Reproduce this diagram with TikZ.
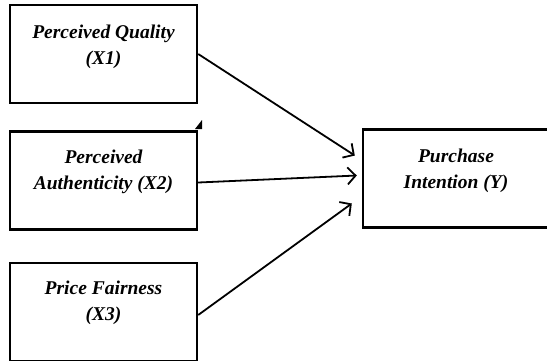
\documentclass[tikz,border=0pt]{standalone}
\usepackage{fontspec}
\setmainfont{Liberation Serif}
\usetikzlibrary{arrows.meta, positioning, calc}

\tikzset{
  factor/.style={draw, line width=2.4pt, minimum width=187pt, minimum height=98pt, inner sep=0pt},
  factortext/.style={align=center, font=\fontsize{19.5}{26}\selectfont\bfseries\itshape},
  path/.style={line width=1.8pt, -{Straight Barb[length=8pt,width=17pt,line width=1.8pt]}}
}

\begin{document}
\begin{tikzpicture}[x=1pt, y=-1pt]
\useasboundingbox (0,0) rectangle (547,360);

% Independent variables
\node[factor] (x1) at (103.5,54) {};
\node[factortext] (x1txt) at ([yshift=7pt]x1.center) {Perceived Quality\\(X1)};

\node[factor] (x2) at (103.5,180.5) {};
\node[factortext] (x2txt) at ([yshift=9pt]x2.center) {Perceived\\Authenticity (X2)};
\fill (195,129) -- (202,129) -- (202,120) -- cycle;

\node[factor] (x3) at (103.5,312) {};
\node[factortext] (x3txt) at ([yshift=9pt]x3.center) {Price Fairness\\(X3)};

% Dependent variable
\node[factor, minimum width=186pt] (y) at (456,178.5) {};
\node[factortext] (ytxt) at ([yshift=8pt]y.center) {Purchase\\Intention (Y)};

% Paths
\draw[path] (x1.east) -- ([xshift=-7pt,yshift=23pt]y.west);
\draw[path] ([yshift=-2pt]x2.east) -- ([xshift=-5pt,yshift=3pt]y.west);
\draw[path] ([yshift=-3pt]x3.east) -- ([xshift=-10pt,yshift=-25pt]y.west);
\end{tikzpicture}
\end{document}
